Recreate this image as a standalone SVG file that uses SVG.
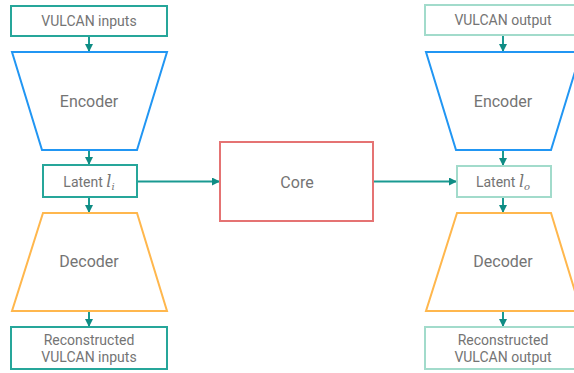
<svg xmlns="http://www.w3.org/2000/svg" width="574" height="373" viewBox="0 0 574 373">
<style>
.box{fill:#fff;stroke-width:2}
.in{stroke:#26A69A}
.out{stroke:#A2DBCB}
.enc{fill:#fff;stroke:#2196F3;stroke-width:2}
.dec{fill:#fff;stroke:#FFB74D;stroke-width:2}
.core{fill:#fff;stroke:#E57373;stroke-width:2}
text{font-family:Roboto,"Liberation Sans",sans-serif;fill:#747474;text-anchor:middle}
.s{font-size:14px}
.m{font-size:16px}
.math{font-family:"DejaVu Serif","Liberation Serif",serif;font-style:italic}
.c{stroke:#1A9A92;stroke-width:2;fill:none}
</style>
<defs>
<marker id="ah" markerWidth="10" markerHeight="10" refX="8" refY="4" orient="auto" markerUnits="userSpaceOnUse">
<path d="M0,0 L8,4 L0,8 Z" fill="#0F8C84"/>
</marker>
</defs>
<rect width="574" height="373" fill="#fff"/>
<g id="connectors">
<line class="c" x1="89" y1="36" x2="89" y2="52" marker-end="url(#ah)"/>
<line class="c" x1="89" y1="150" x2="89" y2="165" marker-end="url(#ah)"/>
<line class="c" x1="89" y1="197" x2="89" y2="213" marker-end="url(#ah)"/>
<line class="c" x1="89" y1="311" x2="89" y2="327" marker-end="url(#ah)"/>
<line class="c" x1="137" y1="181.5" x2="220" y2="181.5" marker-end="url(#ah)"/>
<line class="c" x1="373" y1="181.5" x2="457" y2="181.5" marker-end="url(#ah)"/>
<line class="c" x1="503" y1="35" x2="503" y2="52" marker-end="url(#ah)"/>
<line class="c" x1="503" y1="150" x2="503" y2="166" marker-end="url(#ah)"/>
<line class="c" x1="503" y1="197" x2="503" y2="213" marker-end="url(#ah)"/>
<line class="c" x1="503" y1="311" x2="503" y2="327" marker-end="url(#ah)"/>
</g>
<g id="vulcan-inputs">
<rect class="box in" x="11" y="6" width="156" height="30"/>
<text class="s" x="89" y="25.5">VULCAN inputs</text>
</g>
<g id="encoder-left">
<polygon class="enc" points="12,52 167,52 137,150 42,150"/>
<text class="m" x="89" y="107">Encoder</text>
</g>
<g id="latent-i">
<rect class="box in" x="43" y="165" width="94" height="32"/>
<text class="s" x="89" y="187">Latent <tspan class="math" font-size="16">l</tspan><tspan class="math" font-size="10" dy="3">i</tspan></text>
</g>
<g id="decoder-left">
<polygon class="dec" points="43,213 137,213 167,311 12,311"/>
<text class="m" x="89" y="267">Decoder</text>
</g>
<g id="reconstructed-inputs">
<rect class="box in" x="11" y="327" width="156" height="42"/>
<text class="s" x="89" y="345">Reconstructed</text>
<text class="s" x="89" y="362">VULCAN inputs</text>
</g>
<g id="core">
<rect class="core" x="220" y="142" width="153" height="79"/>
<text class="m" x="297" y="188">Core</text>
</g>
<g id="vulcan-output">
<rect class="box out" x="425" y="5" width="156" height="30"/>
<text class="s" x="503" y="25">VULCAN output</text>
</g>
<g id="encoder-right">
<polygon class="enc" points="426,52 581,52 551,150 456,150"/>
<text class="m" x="503" y="107">Encoder</text>
</g>
<g id="latent-o">
<rect class="box out" x="457" y="166" width="94" height="31"/>
<text class="s" x="503" y="187">Latent <tspan class="math" font-size="16">l</tspan><tspan class="math" font-size="10" dy="3">o</tspan></text>
</g>
<g id="decoder-right">
<polygon class="dec" points="457,213 551,213 581,311 426,311"/>
<text class="m" x="503" y="267">Decoder</text>
</g>
<g id="reconstructed-output">
<rect class="box out" x="425" y="327" width="156" height="42"/>
<text class="s" x="503" y="345">Reconstructed</text>
<text class="s" x="503" y="362">VULCAN output</text>
</g>
</svg>
